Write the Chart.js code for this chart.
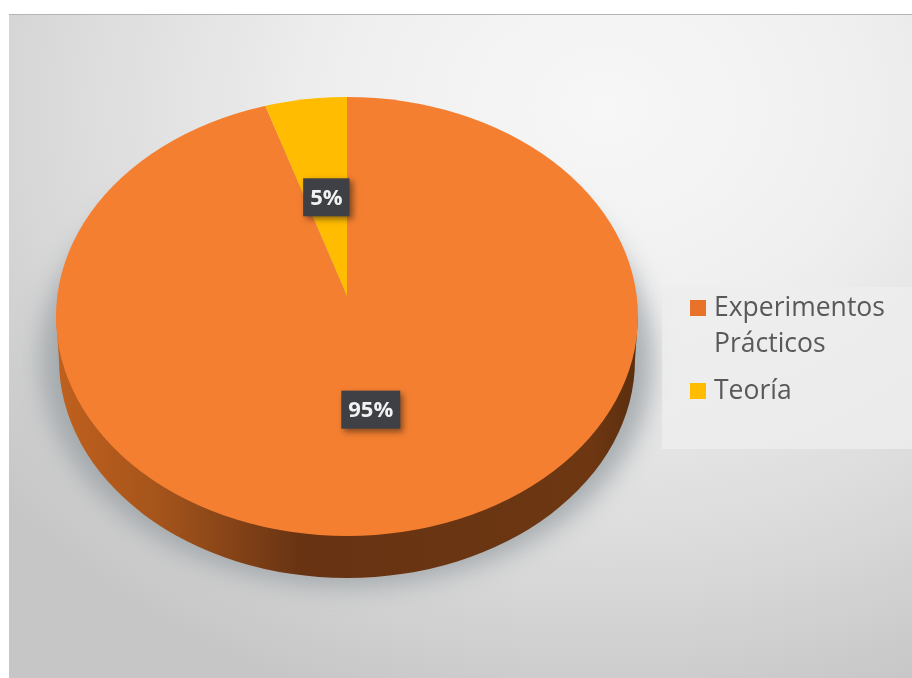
<!DOCTYPE html>
<html lang="es">
  <head>
    <meta charset="UTF-8" />
    <title>Experimentos Prácticos / Teoría</title>
    <script src="https://cdn.jsdelivr.net/npm/chart.js"></script>
    <style>
      html, body { margin: 0; padding: 0; background: #fff; overflow: hidden; }
      #frame {
        position: absolute; left: 9px; top: 14px; width: 903px; height: 664px;
        border-top: 1px solid #b5b5b5;
        box-sizing: border-box;
        background: radial-gradient(ellipse 85% 95% at 66% 14%, #f7f7f7 0%, #efefef 35%, #dadada 72%, #c6c6c6 100%);
      }
      #myChart { position: absolute; left: 0; top: 0; }
    </style>
  </head>
  <body>
    <div id="frame"></div>
    <canvas id="myChart" width="912" height="678"></canvas>

    <script>
      // datos
      const categories = ["Experimentos Prácticos", "Teoría"];
      const legendLines = [["Experimentos", "Prácticos"], ["Teoría"]];
      const values = [95, 5];
      const valueLabels = ["95%", "5%"];
      const colors = ["#F47F31", "#FFBC00"];

      // fake 3d: the pie is squashed around its apex and clipped to the top ellipse
      const apex = { x: 347, y: 296 };
      const squash = 0.757;
      const top3d = { x: 347, y: 316.5, rx: 291, ry: 219.5 };
      const base3d = { x: 347, y: 360, rx: 288, ry: 218 };
      const labelDist = [152, 132];

      const wallPath = (ctx) => {
        ctx.beginPath();
        ctx.ellipse(base3d.x, base3d.y, base3d.rx, base3d.ry, 0, 0, Math.PI);
        ctx.lineTo(top3d.x - top3d.rx, top3d.y);
        ctx.lineTo(top3d.x + top3d.rx, top3d.y);
        ctx.closePath();
      };

      const pie3d = {
        id: "pie3d",
        beforeDatasetsDraw(chart) {
          const ctx = chart.ctx;

          // shadow under the pie
          ctx.save();
          ctx.filter = "blur(13px)";
          ctx.fillStyle = "rgba(150,157,163,0.8)";
          ctx.beginPath();
          ctx.ellipse(base3d.x, base3d.y, base3d.rx + 18, base3d.ry + 8, 0, 0, Math.PI * 2);
          ctx.fill();
          ctx.restore();

          // side wall
          const g = ctx.createLinearGradient(56, 0, 638, 0);
          g.addColorStop(0, "#C0601E");
          g.addColorStop(0.18, "#A4541B");
          g.addColorStop(0.42, "#683313");
          g.addColorStop(0.7, "#6A3512");
          g.addColorStop(0.92, "#6E3712");
          g.addColorStop(1, "#5A2E0E");
          ctx.save();
          ctx.fillStyle = g;
          wallPath(ctx);
          ctx.fill();
          ctx.restore();
        },
        beforeDatasetDraw(chart) {
          const ctx = chart.ctx;
          const arc = chart.getDatasetMeta(0).data[0];
          ctx.save();
          ctx.beginPath();
          ctx.ellipse(top3d.x, top3d.y, top3d.rx, top3d.ry, 0, 0, Math.PI * 2);
          ctx.clip();
          ctx.translate(apex.x, apex.y);
          ctx.scale(1, squash);
          ctx.translate(-arc.x, -arc.y);
        },
        afterDatasetDraw(chart) {
          chart.ctx.restore();
        },
        afterDatasetsDraw(chart) {
          const ctx = chart.ctx;

          // etiquetas de valor
          chart.getDatasetMeta(0).data.forEach((arc, i) => {
            const mid = (arc.startAngle + arc.endAngle) / 2;
            const x = apex.x + labelDist[i] * Math.cos(mid);
            const y = apex.y + labelDist[i] * Math.sin(mid) * squash;
            ctx.save();
            ctx.font = "700 22px 'Open Sans'";
            const w = ctx.measureText(valueLabels[i]).width + 14;
            ctx.shadowColor = "rgba(60,40,20,0.6)";
            ctx.shadowBlur = 6;
            ctx.shadowOffsetX = 3;
            ctx.shadowOffsetY = 3;
            ctx.fillStyle = "#3F4046";
            ctx.fillRect(x - w / 2, y - 19, w, 38);
            ctx.shadowColor = "transparent";
            ctx.fillStyle = "#F2F2F2";
            ctx.textAlign = "center";
            ctx.textBaseline = "middle";
            ctx.fillText(valueLabels[i], x, y + 1);
            ctx.restore();
          });

          // leyenda
          ctx.save();
          ctx.fillStyle = "rgba(238,238,238,0.8)";
          ctx.fillRect(662, 287, 250, 162);
          ctx.font = "26.5px 'Open Sans'";
          ctx.textBaseline = "middle";
          const legendY = [[308, 344], [391]];
          legendLines.forEach((lines, i) => {
            ctx.fillStyle = i === 0 ? "#E8722A" : colors[i];
            ctx.fillRect(690, legendY[i][0] - 8, 16, 16);
            ctx.fillStyle = "#595959";
            lines.forEach((line, j) => ctx.fillText(line, 714, legendY[i][j]));
          });
          ctx.restore();
        },
      };

      const ctx = document.querySelector("#myChart").getContext("2d");
      const myChart = new Chart(ctx, {
        type: "pie",
        data: {
          labels: categories,
          datasets: [
            {
              data: values,
              backgroundColor: colors,
              borderWidth: 0,
              clip: false,
            },
          ],
        },
        options: {
          responsive: false,
          animation: false,
          plugins: {
            legend: { display: false },
            tooltip: { enabled: false },
          },
        },
        plugins: [pie3d],
      });
    </script>
  </body>
</html>
